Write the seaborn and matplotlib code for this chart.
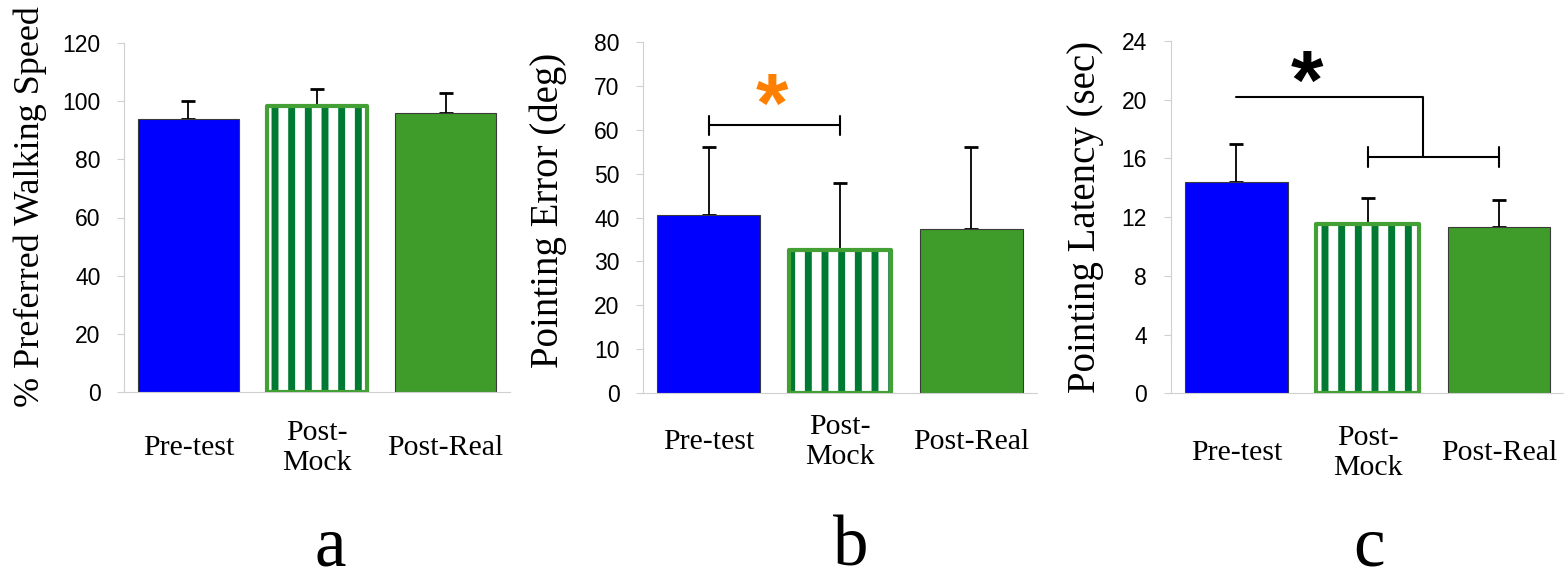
"""
Tres paneles de barras: velocidad, error y latencia de apuntado
para Pre-test, Post-Mock y Post-Real (barra Mock rayada).
"""

import numpy as np
import pandas as pd
import matplotlib.pyplot as plt
import seaborn as sns

# ---- datos ----
condiciones = ["Pre-test", "Post-\nMock", "Post-Real"]

velocidad_media = [94, 98.5, 96]
velocidad_err = [6, 5.6, 6.8]

error_media = [40.5, 32.7, 37.5]
error_err = [15.6, 15.2, 18.6]

latencia_media = [14.4, 11.5, 11.3]
latencia_err = [2.6, 1.8, 1.9]

# corchetes de significancia
corchete_error = [0, 1, 61]            # x inicio, x fin, altura
corchete_lat_sup = [0, 1.42, 20.2]     # Pre-test -> centro del grupo
corchete_lat_inf = [1, 2, 16.1]        # Post-Mock .. Post-Real

AZUL = "#0000FF"
VERDE = "#3F9C2B"
RAYA = "#007A33"
BORDE = "#43A035"
NARANJA = "#FF8000"
GRIS = "#d0d0d0"

sns.set_theme(style="white")
plt.rcParams["font.family"] = ["Liberation Sans", "DejaVu Sans"]
plt.rcParams["hatch.linewidth"] = 5.0
plt.rcParams["text.color"] = "black"
plt.rcParams["axes.labelcolor"] = "black"
plt.rcParams["xtick.color"] = "black"
plt.rcParams["ytick.color"] = "black"

W, H = 1564, 581


def panel(fig, rect, medias, errores, ylim, paso, ylabel, label_xy, xpad, ylabel_size=28):
    ax = fig.add_axes(rect)
    df = pd.DataFrame({"cond": condiciones, "val": medias})
    sns.barplot(data=df, x="cond", y="val", hue="cond", palette=[AZUL, "white", VERDE],
                saturation=1, legend=False, width=0.78, edgecolor="#3a3a3a",
                linewidth=0.8, ax=ax)

    # barra Mock: rayas verticales + borde verde grueso
    mock = ax.patches[1]
    mock.set_hatch("|")
    mock.set_edgecolor(RAYA)
    mock.set_linewidth(0)
    ax.bar(mock.get_x() + mock.get_width() / 2, mock.get_height(), width=mock.get_width(),
           fill=False, edgecolor=BORDE, linewidth=3, joinstyle="round", zorder=3)

    # barras de error solo hacia arriba
    x = np.arange(len(medias))
    ax.errorbar(x, medias, yerr=[np.zeros(len(errores)), errores], fmt="none",
                ecolor="black", elinewidth=1.3, capsize=5, capthick=2, zorder=0.9)

    ax.set_xlim(-0.5, 2.5)
    ax.set_ylim(*ylim)
    ax.set_yticks(np.arange(ylim[0], ylim[1] + 0.01, paso))
    ax.set_xticks(x)
    ax.set_xticklabels(condiciones, fontfamily="Liberation Serif", fontsize=21.5, va="center")
    ax.set_xticks([-0.5, 0.5, 1.5, 2.5], minor=True)
    ax.tick_params(axis="x", which="major", length=0, pad=xpad)
    ax.tick_params(axis="x", which="minor", length=6, color=GRIS, width=0.8)
    ax.tick_params(axis="y", length=5, color=GRIS, labelcolor="black", width=0.8, pad=12,
                   labelsize=16.5, left=True)
    for s in ["top", "right"]:
        ax.spines[s].set_visible(False)
    for s in ["left", "bottom"]:
        ax.spines[s].set_color(GRIS)
        ax.spines[s].set_linewidth(0.8)

    ax.set_xlabel("")
    ax.set_ylabel(ylabel, fontfamily="Liberation Serif", fontsize=ylabel_size, va="center")
    ax.yaxis.set_label_coords(*label_xy)
    return ax


fig = plt.figure(figsize=(W / 100, H / 100), dpi=100)

ax_a = panel(fig, [124 / W, 189 / H, 386 / W, 349 / H], velocidad_media, velocidad_err,
             (0, 120), 20, "% Preferred Walking Speed", (-0.2435, 0.53), 40, ylabel_size=26)

ax_b = panel(fig, [643 / W, 187.7 / H, 394 / W, 351.5 / H], error_media, error_err,
             (0, 80), 10, "Pointing Error (deg)", (-0.241, 0.52), 35)

ax_c = panel(fig, [1170.7 / W, 187.7 / H, 394 / W, 352.3 / H], latencia_media, latencia_err,
             (0, 24), 4, "Pointing Latency (sec)", (-0.215, 0.5), 43)

# corchete y asterisco del panel b
x0, x1, y = corchete_error
ax_b.plot([x0, x1], [y, y], color="black", lw=1.5)
for xx in (x0, x1):
    ax_b.plot([xx, xx], [y - 2.2, y + 2.2], color="black", lw=1.5)
ax_b.text(0.48, 59.5, "*", color=NARANJA, fontsize=60, fontweight="bold",
          ha="center", va="baseline")

# corchete y asterisco del panel c
x0, x1, ys = corchete_lat_sup
xi0, xi1, yi = corchete_lat_inf
ax_c.plot([x0, x1, x1], [ys, ys, yi], color="black", lw=1.5)
ax_c.plot([xi0, xi1], [yi, yi], color="black", lw=1.5)
for xx in (xi0, xi1):
    ax_c.plot([xx, xx], [yi - 0.65, yi + 0.65], color="black", lw=1.5)
ax_c.text(0.535, 19.4, "*", color="black", fontsize=60, fontweight="bold",
          ha="center", va="baseline")

# letras de los paneles
for letra, xp in zip(["a", "b", "c"], [330, 851, 1369]):
    fig.text(xp / W, 1 / H, letra, ha="center", va="bottom", fontsize=51,
             fontfamily="Liberation Serif")

fig.savefig("out.png", dpi=100)
